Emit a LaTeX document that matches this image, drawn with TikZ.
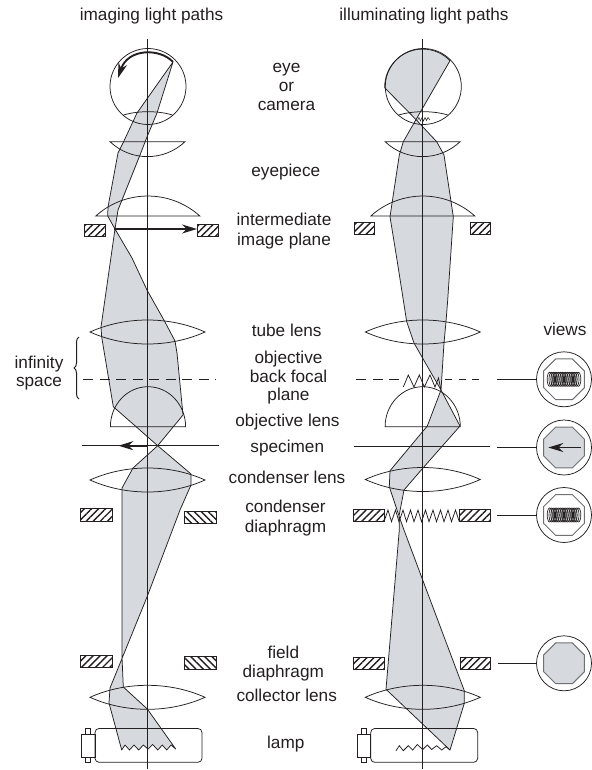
\documentclass[tikz,border=0pt]{standalone}
\usepackage{fontspec}
\setmainfont{Liberation Sans}
\usepackage{xcolor}
\definecolor{beamgray}{RGB}{214, 217, 222}
\definecolor{inkdark}{RGB}{35, 31, 32}
\definecolor{octagray}{RGB}{110, 112, 115}
\usepackage{tikz}
\usetikzlibrary{arrows.meta, positioning, patterns.meta, shapes.geometric, decorations.pathreplacing}
\tikzset{
    optic/.style={draw=inkdark, line width=0.75pt},
    beam/.style={draw=inkdark, fill=beamgray, line width=0.75pt, line join=round},
    hatchfwd/.style={draw=inkdark, line width=0.7pt, pattern={Lines[angle=45, distance=5pt, line width=1.4pt]}, pattern color=inkdark},
    hatchbwd/.style={draw=inkdark, line width=1pt, pattern={Lines[angle=-45, distance=5pt, line width=1.4pt]}, pattern color=inkdark},
    heavyarrow/.style={draw=inkdark, line width=1.9pt, -{Stealth[length=15pt, width=9pt]}},
    label/.style={font=\fontsize{17.2}{19.2}\selectfont, align=center, text=inkdark, inner sep=0pt, anchor=base},
    viewdisc/.style={circle, optic, minimum size=55pt, inner sep=0pt},
    viewocta/.style={regular polygon, regular polygon sides=8, draw=octagray, line width=1pt, minimum size=44pt, inner sep=0pt},
}
\newcommand{\biconvexlens}[2]{\draw[optic] (#1-57.5,#2) .. controls (#1-22,#2-16) and (#1+22,#2-16) .. (#1+57.5,#2) .. controls (#1+22,#2+16) and (#1-22,#2+16) .. cycle;}
\newcommand{\eyepiecelens}[1]{\draw[optic] (#1-37.5,141.7) -- (#1+37.5,141.7) .. controls (#1+16.5,161.6) and (#1-16.5,161.6) .. cycle;}
\newcommand{\fieldlens}[1]{\draw[optic] (#1-52,216) -- (#1+52,216) .. controls (#1+22.5,189.4) and (#1-22.5,189.4) .. cycle;}
\newcommand{\eyeball}[1]{\draw[optic] (#1,86.5) circle (38);
    \draw[optic] (#1-24.5,115) .. controls (#1-10,110.6) and (#1+10,110.6) .. (#1+24.5,115);}
\newcommand{\domelens}[1]{\draw[optic] (#1-37.6,426.7) arc[start angle=-180, end angle=0, x radius=37.6, y radius=40] -- cycle;}
\newcommand{\lamphouse}[1]{\draw[optic, rounded corners=4pt] (#1-52.5,728.5) rectangle (#1+54.5,762.3);
    \draw[optic] (#1-66,734) rectangle (#1-52.5,757.3);
    \draw[optic] (#1-62,728.5) rectangle (#1-57,734);
    \draw[optic] (#1-62,757.3) rectangle (#1-57,762.3);}
\newcommand{\viewcoil}[2]{\foreach \k in {0,...,16}{\draw[inkdark, line width=0.7pt] (#1-14.4+1.8*\k,#2) ellipse (2.4 and 7);}}
\begin{document}
\begin{tikzpicture}[x=1pt, y=-1pt, >=Stealth]
    \useasboundingbox (0,0) rectangle (591,770);

    \node[label] (imaginghead) at (151.5,20.7) {imaging light paths};
    \node[label] (illumhead) at (424,20.7) {illuminating light paths};
    \node[label] (viewshead) at (565,335) {views};

    \draw[beam] (173,62) -- (137,113) -- (123,143) -- (118,153) -- (108,207) -- (107.7,216) -- (115,229) -- (132,258) -- (147,290) -- (165,322) -- (175,341) -- (177,353) -- (183,415) -- (157.7,445.7) -- (191,474) -- (191,485) -- (180,510) -- (147,597) -- (110,688) -- (109,703) -- (121.7,750)
        -- (125,745) -- (129.5,750) -- (134,745) -- (138.7,750) -- (143.3,745) -- (148,749) -- (152.7,744.5) -- (157.7,750) -- (162.3,745) -- (166.7,750) -- (171,745) -- (175.7,749)
        -- (147.3,709) -- (123.3,687) -- (122,657) -- (122,488) -- (133,468) -- (157.7,445.7) -- (113.3,406.7) -- (101.7,337) -- (101,327) -- (115,229) -- (118,210) -- (140,155) -- (147,137) -- (157,113) -- cycle;

    \draw[beam] (416,119.6) -- (450,60.7) arc[start angle=-44, end angle=-181, radius=38] -- (416,119.6) -- (436.7,141.7) -- (444,155) -- (453.3,216.7) -- (447.7,300) -- (446,321.7) -- (444,343) -- (441,390) -- (460,426) -- (422.7,468.3) -- (404,490) -- (399,516) -- (404,530) -- (422.7,580) -- (464.3,690.7) -- (464.3,703.3) -- (450,750)
        -- (386,689.3) -- (399.3,530) -- (399,516) -- (389.3,486.7) -- (390,470.7) -- (427.3,426) -- (441,390) -- (422.7,358.3) -- (414,343) -- (406.7,321.7) -- (403.3,300) -- (396.7,258) -- (390,216.7) -- (399.3,155) -- (403.3,141.7) -- cycle;

    \draw[optic] (147.6,39) -- (147.6,769);
    \draw[optic] (422.8,39) -- (422.8,769);

    \eyeball{148}
    \eyeball{423.3}
    \draw[heavyarrow] (173,62) .. controls (160,48) and (128,48) .. (118,78);
    \draw[optic, line width=0.5pt] (417.5,120.5) -- (419,117.5) -- (420.5,121) -- (422,117.5) -- (423.5,121) -- (425,117.5) -- (426.5,120.5) -- (428,117.5) -- (430,120);

    \eyepiecelens{147.5}
    \eyepiecelens{422.6}
    \fieldlens{147.8}
    \fieldlens{422.8}
    \biconvexlens{147.5}{332}
    \biconvexlens{422.8}{332}
    \domelens{148}
    \domelens{422.7}
    \biconvexlens{147.5}{480}
    \biconvexlens{422.8}{479.5}
    \biconvexlens{147.5}{697.3}
    \biconvexlens{422.8}{697.3}
    \lamphouse{147.5}
    \lamphouse{423.2}

    \draw[hatchfwd] (84,224) rectangle (105,236);
    \draw[hatchfwd] (197,224) rectangle (218,236);
    \draw[hatchfwd] (354,222.3) rectangle (374.3,234.3);
    \draw[hatchfwd] (470,222.3) rectangle (490.7,234.3);
    \draw[hatchfwd] (80,508.5) rectangle (112,521);
    \draw[hatchbwd] (184.3,511) rectangle (216.7,523);
    \draw[hatchfwd] (353.3,509.3) rectangle (384,521.7);
    \draw[hatchfwd] (459.3,509.3) rectangle (490,521.7);
    \draw[hatchfwd] (80,655) rectangle (112,667);
    \draw[hatchbwd] (184.3,656.7) rectangle (216.7,669);
    \draw[hatchfwd] (353.3,657.3) rectangle (384,669.3);
    \draw[hatchfwd] (460,657.3) rectangle (490.7,669.3);

    \draw[heavyarrow] (114,229) -- (197,229);

    \draw[optic] (81.7,445.7) -- (219,445.7);
    \draw[heavyarrow] (148,445.7) -- (118.3,445.7);
    \draw[optic] (354,446.7) -- (490,446.7);

    \draw[optic, dash pattern=on 10pt off 6.5pt] (83,379) -- (216,379);
    \draw[optic, dash pattern=on 10pt off 6.5pt] (356,379.3) -- (400,379.3);
    \draw[optic, dash pattern=on 7pt off 6.5pt] (445,379.3) -- (485,379.3);

    \draw[optic] (403.3,387) -- (408.3,375) -- (414,387) -- (419.3,375) -- (424.3,387) -- (430,375) -- (435,387) -- (438.5,378) -- (441,390);
    \draw[optic] (384,521.7) -- (388,510) -- (391.5,521.7) -- (395.5,510) -- (399,521.7) -- (403,510) -- (406.5,521.7) -- (410.5,510) -- (414,521.7) -- (418,510) -- (421.5,521.7) -- (425.5,510) -- (429,521.7) -- (433,510) -- (436.5,521.7) -- (440.5,510) -- (444,521.7) -- (448,510) -- (451.5,521.7) -- (455.5,510) -- (459.3,521.7);
    \draw[optic] (396,750.7) -- (399.3,745.7) -- (403.3,750.7) -- (408.3,745.7) -- (412.7,750) -- (417.3,744.5) -- (422.7,749.5) -- (427.3,745) -- (431.7,749.5) -- (436.7,745.7) -- (441.7,750) -- (446,746.7) -- (450,750);

    \draw[inkdark, line width=1pt, decorate, decoration={brace, amplitude=5pt}] (79,399) -- (79,337);

    \node[label] (eyelabel) at (286.5,110.7) {eye\\or\\camera};
    \node[label] (eyepiecelabel) at (285.8,176.7) {eyepiece};
    \node[label] (intermediatelabel) at (284,245) {intermediate\\image plane};
    \node[label] (tubelabel) at (286.7,336) {tube lens};
    \node[label, font=\fontsize{17.2}{17.8}\selectfont] (infinitylabel) at (39,386.7) {infinity\\space};
    \node[label, font=\fontsize{17.2}{18.7}\selectfont] (backfocallabel) at (288.5,400.7) {objective\\back focal\\plane};
    \node[label] (objectivelabel) at (287.5,426) {objective lens};
    \node[label] (specimenlabel) at (287.3,452.3) {specimen};
    \node[label] (condenserlabel) at (287,483.3) {condenser lens};
    \node[label] (diaphragmlabel) at (285.5,532) {condenser\\diaphragm};
    \node[label] (fieldlabel) at (283.3,677.7) {field\\diaphragm};
    \node[label] (collectorlabel) at (286.7,701) {collector lens};
    \node[label] (lamplabel) at (285.8,748.3) {lamp};

    \node[viewdisc] (viewbackfocal) at (564,379.3) {};
    \node[viewocta] at (viewbackfocal) {};
    \viewcoil{564}{379.3}
    \node[viewdisc] (viewspecimen) at (564,447.5) {};
    \node[viewocta, fill=beamgray] at (viewspecimen) {};
    \draw[heavyarrow] (580.7,447.5) -- (548.3,447.5);
    \node[viewdisc] (viewcondenser) at (564,515) {};
    \node[viewocta] at (viewcondenser) {};
    \viewcoil{564}{515}
    \node[viewdisc] (viewfield) at (564,663.3) {};
    \node[viewocta, fill=beamgray] at (viewfield) {};

    \coordinate (stubbackfocal) at (497.3,379.3);
    \coordinate (stubspecimen) at (497.3,447.5);
    \coordinate (stubcondenser) at (497.3,515);
    \coordinate (stubfield) at (498.3,663.3);
    \draw[optic] (stubbackfocal) -- (viewbackfocal);
    \draw[optic] (stubspecimen) -- (viewspecimen);
    \draw[optic] (stubcondenser) -- (viewcondenser);
    \draw[optic] (stubfield) -- (viewfield);
\end{tikzpicture}
\end{document}
